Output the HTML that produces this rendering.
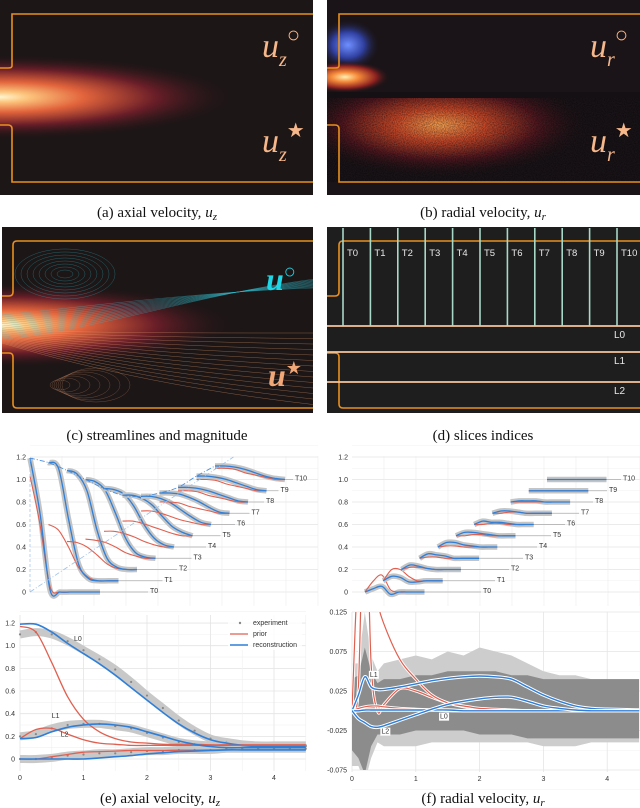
<!DOCTYPE html>
<html><head><meta charset="utf-8">
<style>
html,body{margin:0;padding:0;background:#fff;}
svg{display:block;font-family:"Liberation Sans",sans-serif;}
.cap{font-family:"Liberation Serif",serif;font-size:15px;fill:#111;}
.tk{font-size:7px;fill:#333;}
.grid{stroke:#e4e4e4;stroke-width:0.8;}
</style></head>
<body>
<svg id="fig" width="640" height="808" viewBox="0 0 640 808">
<defs>
 <radialGradient id="jetA" gradientUnits="userSpaceOnUse" cx="0" cy="97" r="240" gradientTransform="translate(0 97) scale(1 0.18) translate(0 -97)">
  <stop offset="0" stop-color="#fff6d0"/><stop offset="0.12" stop-color="#fcc47c"/>
  <stop offset="0.35" stop-color="#e2643c"/><stop offset="0.65" stop-color="#6a1e28"/>
  <stop offset="1" stop-color="#1c1416" stop-opacity="0"/>
 </radialGradient>
 <radialGradient id="jetC" gradientUnits="userSpaceOnUse" cx="0" cy="325" r="240" gradientTransform="translate(0 325) scale(1 0.18) translate(0 -325)">
  <stop offset="0" stop-color="#fff6d0"/><stop offset="0.12" stop-color="#fcc47c"/>
  <stop offset="0.35" stop-color="#e2643c"/><stop offset="0.65" stop-color="#6a1e28"/>
  <stop offset="1" stop-color="#1c1416" stop-opacity="0"/>
 </radialGradient>
 <radialGradient id="blueB" cx="0.5" cy="0.5" r="0.5">
  <stop offset="0" stop-color="#6f8fff"/><stop offset="0.5" stop-color="#3040a0"/><stop offset="1" stop-color="#1a1418" stop-opacity="0"/>
 </radialGradient>
 <radialGradient id="hotB" cx="0.5" cy="0.5" r="0.5">
  <stop offset="0" stop-color="#fff0b0"/><stop offset="0.3" stop-color="#f58a3a"/><stop offset="0.7" stop-color="#8a2020"/><stop offset="1" stop-color="#1a1418" stop-opacity="0"/>
 </radialGradient>
 <radialGradient id="lowB" gradientUnits="userSpaceOnUse" cx="440" cy="125" r="150" gradientTransform="translate(440 125) scale(1 0.35) translate(-440 -125)">
  <stop offset="0" stop-color="#f6a050"/><stop offset="0.3" stop-color="#c84a2a"/><stop offset="0.65" stop-color="#501820"/><stop offset="1" stop-color="#1a1418" stop-opacity="0"/>
 </radialGradient>
 <filter id="noise" x="0" y="0" width="100%" height="100%">
  <feTurbulence type="fractalNoise" baseFrequency="0.9" numOctaves="1" seed="3"/>
  <feColorMatrix type="matrix" values="0 0 0 0 0  0 0 0 0 0  0 0 0 0 0  0 0 0 -1.6 1.1"/>
 </filter>
 <clipPath id="clipA"><rect x="0" y="0" width="313" height="195"/></clipPath>
 <clipPath id="clipB"><rect x="327" y="0" width="313" height="195"/></clipPath>
 <clipPath id="clipC"><rect x="2" y="227" width="311" height="186"/></clipPath>
 <clipPath id="clipD"><rect x="327" y="227" width="313" height="186"/></clipPath>
</defs>

<!-- Panel a -->
<g clip-path="url(#clipA)">
 <rect x="0" y="0" width="313" height="195" fill="#1c1616"/>
 <rect x="0" y="20" width="313" height="155" fill="url(#jetA)"/>
 <path d="M313 14 H12 V66 Q12 68 8 68 H0 M0 125 H8 Q12 125 12 129 V182 H313" fill="none" stroke="#e8901e" stroke-width="1.6"/>
 <text x="262" y="57" font-family="Liberation Serif,serif" font-style="italic" font-size="34" fill="#f6b78a">u<tspan font-size="20" dy="9">z</tspan><tspan font-size="22" dy="-24" font-style="normal">○</tspan></text>
 <text x="262" y="152" font-family="Liberation Serif,serif" font-style="italic" font-size="34" fill="#f6b78a">u<tspan font-size="20" dy="9">z</tspan><tspan font-size="20" dy="-24" font-style="normal">★</tspan></text>
</g>
<text class="cap" x="157" y="217" text-anchor="middle">(a) axial velocity, <tspan font-style="italic">u<tspan font-size="11" dy="3">z</tspan></tspan></text>

<!-- Panel b -->
<g clip-path="url(#clipB)">
 <rect x="327" y="0" width="313" height="195" fill="#1a1418"/>
 <rect x="327" y="98" width="313" height="84" fill="url(#lowB)"/>
 <rect x="327" y="98" width="313" height="84" filter="url(#noise)" opacity="0.55"/>
 <ellipse cx="348" cy="45" rx="32" ry="26" fill="url(#blueB)"/>
 <ellipse cx="345" cy="77" rx="45" ry="16" fill="url(#hotB)"/>
 <rect x="327" y="92" width="313" height="6" fill="#141014"/>
 <path d="M640 14 H339 V66 Q339 68 335 68 H327 M327 125 H335 Q339 125 339 129 V182 H640" fill="none" stroke="#e8901e" stroke-width="1.6"/>
 <text x="590" y="57" font-family="Liberation Serif,serif" font-style="italic" font-size="34" fill="#f6b78a">u<tspan font-size="20" dy="9">r</tspan><tspan font-size="22" dy="-24" font-style="normal">○</tspan></text>
 <text x="590" y="152" font-family="Liberation Serif,serif" font-style="italic" font-size="34" fill="#f6b78a">u<tspan font-size="20" dy="9">r</tspan><tspan font-size="20" dy="-24" font-style="normal">★</tspan></text>
</g>
<text class="cap" x="483" y="217" text-anchor="middle">(b) radial velocity, <tspan font-style="italic">u<tspan font-size="11" dy="3">r</tspan></tspan></text>

<!-- Panel c -->
<g id="panelC" clip-path="url(#clipC)">
 <rect x="2" y="227" width="311" height="186" fill="#1c1616"/>
 <rect x="2" y="250" width="311" height="150" fill="url(#jetC)"/>
 <g id="streams"></g>
 <path d="M313 241 H17 Q13 241 13 245 V292 Q13 296 9 296 H2 M2 353 H9 Q13 353 13 357 V404 Q13 408 17 408 H313" fill="none" stroke="#e8901e" stroke-width="1.6"/>
 <text x="266" y="290" font-family="Liberation Serif,serif" font-style="italic" font-weight="bold" font-size="32" fill="#1fd6e6">u<tspan font-size="20" dy="-12" font-style="normal" font-weight="normal">○</tspan></text>
 <text x="268" y="386" font-family="Liberation Serif,serif" font-style="italic" font-weight="bold" font-size="32" fill="#f0a878">u<tspan font-size="18" dy="-12" font-style="normal" font-weight="normal">★</tspan></text>
</g>
<text class="cap" x="157" y="440" text-anchor="middle">(c) streamlines and magnitude</text>

<!-- Panel d -->
<g id="panelD" clip-path="url(#clipD)">
 <rect x="327" y="227" width="313" height="186" fill="#1e1e1e"/>
 <path d="M640 241 H343 Q339 241 339 245 V292 Q339 296 335 296 H327 M327 353 H335 Q339 353 339 357 V404 Q339 408 343 408 H640" fill="none" stroke="#e8901e" stroke-width="1.6"/>
</g>
<text class="cap" x="483" y="440" text-anchor="middle">(d) slices indices</text>

<g id="chartETop"></g>
<g id="chartFTop"></g>
<g id="chartE"></g>
<g id="chartF"></g>

<text class="cap" x="160" y="803" text-anchor="middle">(e) axial velocity, <tspan font-style="italic">u<tspan font-size="11" dy="3">z</tspan></tspan></text>
<text class="cap" x="483" y="803" text-anchor="middle">(f) radial velocity, <tspan font-style="italic">u<tspan font-size="11" dy="3">r</tspan></tspan></text>
</svg>

<script>
// ---------- data: axial slices (e-top) ----------
const sliceLabels = ["T0","T1","T2","T3","T4","T5","T6","T7","T8","T9","T10"];
const axialTicks = [0,0.2,0.4,0.6,0.8,1.0,1.2];
const axialRecon = [
 [1.19,0.7,0.02,0,0,0,0,0],
 [1.05,1.0,0.55,0.15,0.02,0,0,0],
 [0.88,0.85,0.7,0.35,0.1,0.02,0,0],
 [0.70,0.68,0.6,0.4,0.18,0.05,0.01,0],
 [0.52,0.51,0.47,0.36,0.2,0.08,0.02,0],
 [0.36,0.36,0.33,0.27,0.17,0.08,0.03,0],
 [0.25,0.25,0.23,0.19,0.13,0.07,0.02,0],
 [0.18,0.18,0.17,0.14,0.1,0.05,0.01,0],
 [0.13,0.13,0.12,0.1,0.07,0.04,0.01,0],
 [0.13,0.13,0.12,0.1,0.07,0.04,0.01,0],
 [0.12,0.12,0.11,0.09,0.06,0.03,0.01,0]
];
const axialPrior = [
 [1.03,0.6,0.05,0,0,0,0,0],
 [0.5,0.45,0.3,0.12,0.03,0,0,0],
 [0.25,0.24,0.2,0.13,0.05,0.01,0,0],
 [0.17,0.16,0.14,0.1,0.05,0.02,0,0],
 [0.14,0.14,0.12,0.09,0.05,0.02,0,0],
 [0.13,0.13,0.11,0.08,0.05,0.02,0,0],
 [0.12,0.12,0.1,0.07,0.04,0.02,0,0],
 [0.1,0.1,0.09,0.06,0.04,0.02,0,0],
 [0.1,0.1,0.09,0.06,0.04,0.02,0,0],
 [0.1,0.1,0.09,0.06,0.04,0.02,0,0],
 [0.1,0.1,0.09,0.06,0.04,0.02,0,0]
];
// ---------- data: radial slices (f-top) ----------
const radialRecon = [
 [0,0.03,0.05,-0.02,0,0,0,0],
 [0,0.04,0.03,-0.01,-0.01,0,0,0],
 [0,0.04,0.03,0.01,0,0,0,0],
 [0,0.04,0.03,0.02,0,0,0,0],
 [0,0.04,0.04,0.02,0.01,0,0,0],
 [0,0.03,0.03,0.02,0.01,0,0,0],
 [0,0.03,0.02,0.02,0.01,0,0,0],
 [0,0.02,0.02,0.01,0,0,0,0],
 [0,0.01,0.01,0.01,0,0,0,0],
 [0,0,0,0,0,0,0,0],
 [0,0,0,0,0,0,0,0]
];
const radialPrior = [
 [0,0.1,0.15,0.02,0,0,0,0],
 [0,0.1,0.1,0.04,0,0,0,0],
 [0,0.02,0.02,0.01,0,0,0,0],
 [0,0.01,0.01,0,0,0,0,0],
 [0,0.01,0.01,0,0,0,0,0],
 [0,0,0.01,0.01,0,0,0,0],
 [0,0,0.01,0.01,0,0,0,0],
 [0,0,0.01,0.01,0,0,0,0],
 [0,0,0,0,0,0,0,0],
 [0,0,0,0,0,0,0,0],
 [0,0,0,0,0,0,0,0]
];
// ---------- data: axial lines (e) ----------
const zAxis = [0,0.25,0.5,0.75,1,1.25,1.5,1.75,2,2.25,2.5,2.75,3,3.25,3.5,3.75,4,4.25,4.5];
const xTicks = [0,1,2,3,4];
const L0Recon = [1.19,1.19,1.12,1.02,0.93,0.84,0.74,0.63,0.52,0.41,0.31,0.23,0.17,0.14,0.12,0.11,0.11,0.11,0.11];
const L0Prior = [1.17,1.12,0.85,0.55,0.35,0.24,0.18,0.15,0.14,0.13,0.13,0.13,0.125,0.125,0.125,0.125,0.125,0.125,0.125];
const L0Exp = [1.1,1.12,1.1,1.04,0.96,0.88,0.79,0.68,0.56,0.45,0.34,0.25,0.18,0.15,0.13,0.12,0.12,0.12,0.12];
const L1Recon = [0.18,0.19,0.24,0.28,0.3,0.31,0.3,0.28,0.24,0.2,0.16,0.13,0.11,0.1,0.1,0.1,0.1,0.1,0.1];
const L1Prior = [0.18,0.26,0.27,0.22,0.17,0.14,0.13,0.12,0.12,0.12,0.12,0.12,0.12,0.12,0.12,0.12,0.12,0.12,0.12];
const L1Exp = [0.2,0.22,0.27,0.3,0.31,0.31,0.29,0.27,0.23,0.19,0.15,0.13,0.12,0.12,0.12,0.11,0.11,0.11,0.11];
const L2Recon = [0,0,0,0,0,0.01,0.02,0.03,0.045,0.055,0.065,0.07,0.075,0.08,0.08,0.08,0.08,0.08,0.08];
const L2Prior = [0,0,0.02,0.04,0.06,0.065,0.07,0.075,0.075,0.075,0.078,0.078,0.08,0.08,0.08,0.08,0.08,0.08,0.08];
const L2Exp = [0,0,0.01,0.03,0.04,0.05,0.05,0.06,0.07,0.07,0.08,0.08,0.08,0.09,0.09,0.09,0.09,0.09,0.09];
// ---------- data: radial lines (f) ----------
const rAxis = [0,0.1,0.2,0.3,0.4,0.5,0.75,1,1.25,1.5,1.75,2,2.25,2.5,2.75,3,3.25,3.5,3.75,4,4.5];
const rTicks = [-0.075,-0.025,0.025,0.075,0.125];
const rL1Recon = [0,0.02,0.043,0.03,0.027,0.027,0.03,0.034,0.038,0.041,0.043,0.044,0.043,0.04,0.03,0.02,0.012,0.006,0.003,0.002,0.001];
const rL2Recon = [0,-0.01,-0.015,-0.02,-0.021,-0.019,-0.012,-0.005,0.002,0.008,0.012,0.015,0.017,0.017,0.012,0.006,0.003,0.001,0,0,0];
const rL0Recon = [0,0,0.001,0.001,0.001,0.001,0.001,0.001,0.001,0.001,0,0,0,0,0,0,0,0,0,0,0];
const rL1Prior = [0,0.03,0.3,0.06,0,0.008,0.028,0.025,0.017,0.01,0.005,0.002,0.001,0,0,0,0,0,0,0,0];
const rL0Prior = [0,0.2,0.3,0.2,0.14,0.11,0.065,0.04,0.02,0.01,0.006,0.003,0.002,0.001,0,0,0,0,0,0,0];
const rL2Prior = [0,0.003,0.005,0.006,0.006,0.005,0.003,0.002,0.001,0,0,0,0,0,0,0,0,0,0,0,0];
const rBandLightHi = [0.06,0.06,0.125,0.07,0.05,0.06,0.065,0.07,0.065,0.075,0.07,0.08,0.075,0.07,0.06,0.05,0.045,0.045,0.04,0.04,0.04];
const rBandLightLo = [-0.07,-0.07,-0.09,-0.06,-0.04,-0.045,-0.045,-0.045,-0.04,-0.04,-0.04,-0.04,-0.04,-0.04,-0.04,-0.045,-0.045,-0.045,-0.04,-0.04,-0.04];
const rBandDarkHi = [0.04,0.045,0.08,0.05,0.035,0.04,0.04,0.045,0.045,0.05,0.05,0.05,0.05,0.045,0.045,0.04,0.04,0.04,0.04,0.04,0.04];
const rBandDarkLo = [-0.05,-0.06,-0.08,-0.045,-0.03,-0.03,-0.03,-0.025,-0.025,-0.025,-0.025,-0.03,-0.03,-0.03,-0.035,-0.035,-0.035,-0.035,-0.035,-0.035,-0.035];

const NS = "http://www.w3.org/2000/svg";
function mk(tag, attrs, parent){const e=document.createElementNS(NS,tag);for(const k in attrs)e.setAttribute(k,attrs[k]);parent.appendChild(e);return e;}
function smooth(pts){
 let d="M"+pts[0][0].toFixed(1)+" "+pts[0][1].toFixed(1);
 for(let i=0;i<pts.length-1;i++){
  const p0=pts[Math.max(0,i-1)],p1=pts[i],p2=pts[i+1],p3=pts[Math.min(pts.length-1,i+2)];
  const c1=[p1[0]+(p2[0]-p0[0])/6,p1[1]+(p2[1]-p0[1])/6],c2=[p2[0]-(p3[0]-p1[0])/6,p2[1]-(p3[1]-p1[1])/6];
  d+=" C"+c1[0].toFixed(1)+" "+c1[1].toFixed(1)+" "+c2[0].toFixed(1)+" "+c2[1].toFixed(1)+" "+p2[0].toFixed(1)+" "+p2[1].toFixed(1);
 }
 return d;
}

// ---------- slices charts ----------
function slicesChart(gid, axisX, x0, step, rStep, recon, prior, labX0, labStep){
 const g=document.getElementById(gid);
 const yS=v=>592-v*112.5;
 const xEnd=axisX+288;
 axialTicks.forEach((t,i)=>{
  const gl=mk("line",{x1:axisX,x2:xEnd,y1:yS(t),y2:yS(t),class:"grid"},g);
  
  
  mk("line",{x1:axisX,x2:xEnd,y1:yS(t+0.1),y2:yS(t+0.1),stroke:"#f0f0f0","stroke-width":0.6},g);
  const tx=mk("text",{x:axisX-4,y:yS(t)+2.5,class:"tk","text-anchor":"end"},g);
  tx.textContent=t===0?"0":t.toFixed(1);
  
  
 });
 for(let k=1;k<10;k++){mk("line",{x1:axisX+k*32,x2:axisX+k*32,y1:456,y2:606,stroke:"#ececec","stroke-width":0.6},g);}
 recon.forEach((prof,k)=>{
  const base=k*0.1;
  const sx=x0+k*step;
  const rp=prof.map((v,i)=>[sx+i*rStep,yS(base+v)]);
  const pp=prior[k].map((v,i)=>[sx+i*rStep,yS(base+v)]);
  const lx=labX0+k*labStep;
  const bl=mk("line",{x1:sx+7*rStep,x2:lx-2,y1:yS(base),y2:yS(base),stroke:"#aaa","stroke-width":0.7},g);
  
  
  const band=mk("path",{d:smooth(rp),fill:"none",stroke:"#c4c4c4","stroke-width":5.5,"stroke-linejoin":"round"},g);
  
  
  const pr=mk("path",{d:smooth(pp),fill:"none",stroke:"#e06050","stroke-width":1.1},g);
  
  
  const rc=mk("path",{d:smooth(rp),fill:"none",stroke:"#2f7fd8","stroke-width":1.3},g);
  
  
  const lb=mk("text",{x:lx,y:yS(base)+1,class:"tk","font-size":"8"},g);
  lb.textContent=sliceLabels[k];
  
  
 });
 return {g,yS};
}
const et=slicesChart("chartETop",30,30,18.5,10,axialRecon,axialPrior,150,14.5);
{
 const pts=axialRecon.map((p,k)=>[30+k*18.5,et.yS(p[0]+k*0.1)]);
 const dl=mk("path",{d:smooth(pts),fill:"none",stroke:"#4a90e0","stroke-width":0.9,"stroke-dasharray":"5 2 1 2"},et.g);
 
 
 const dg=mk("line",{x1:30,y1:et.yS(0),x2:30+11*18.5,y2:et.yS(1.2),stroke:"#9cc0ea","stroke-width":0.8,"stroke-dasharray":"5 2 1 2"},et.g);
 
 
 mk("line",{x1:30,y1:et.yS(0),x2:30,y2:et.yS(1.19),stroke:"#9cc0ea","stroke-width":0.7,"stroke-dasharray":"3 2"},et.g);
}
slicesChart("chartFTop",352,365,18.2,8.5,radialRecon,radialPrior,483,14);

// ---------- line chart e ----------
{
 const g=document.getElementById("chartE");
 const xS=v=>20+v*63.5, yS=v=>759-v*113.3;
 [0,0.2,0.4,0.6,0.8,1.0,1.2].forEach(t=>{
  mk("line",{x1:20,x2:306,y1:yS(t),y2:yS(t),class:"grid"},g);
  mk("line",{x1:20,x2:306,y1:yS(t+0.1),y2:yS(t+0.1),stroke:"#f0f0f0","stroke-width":0.6},g);
  const tx=mk("text",{x:15,y:yS(t)+2.5,class:"tk","text-anchor":"end"},g);
  tx.textContent=t===0?"0":t.toFixed(1);
  
  
 });
 xTicks.forEach(t=>{
  mk("line",{x1:xS(t),x2:xS(t),y1:615,y2:771,class:"grid"},g);
  mk("line",{x1:xS(t+0.5),x2:xS(t+0.5),y1:615,y2:771,stroke:"#f0f0f0","stroke-width":0.6},g);
  const tx=mk("text",{x:xS(t),y:780,class:"tk","text-anchor":"middle"},g);
  tx.textContent=t;
  
  
 });
 const series=[["L0",L0Exp,L0Prior,L0Recon],["L1",L1Exp,L1Prior,L1Recon],["L2",L2Exp,L2Prior,L2Recon]];
 series.forEach(([n,ex,pr,rc])=>{
  const ep=ex.map((v,i)=>[xS(zAxis[i]),yS(v)]);
  const b=mk("path",{d:smooth(ep),fill:"none",stroke:"#c8c8c8","stroke-width":8,"stroke-linejoin":"round"},g);
  
  
  ep.forEach(p=>{
   const c=mk("circle",{cx:p[0],cy:p[1],r:1.1,fill:"#888"},g);
   
   
  });
 });
 series.forEach(([n,ex,pr,rc])=>{
  const p=mk("path",{d:smooth(pr.map((v,i)=>[xS(zAxis[i]),yS(v)])),fill:"none",stroke:"#e06050","stroke-width":1.3},g);
  
  
  const r=mk("path",{d:smooth(rc.map((v,i)=>[xS(zAxis[i]),yS(v)])),fill:"none",stroke:"#2f7fd8","stroke-width":1.6},g);
  
  
 });
 [["L0",0.85,1.04],["L1",0.5,0.36],["L2",0.64,0.2]].forEach(([n,x,y])=>{
  const t=mk("text",{x:xS(x),y:yS(y),class:"tk","font-size":"8"},g);
  t.textContent=n;
  
  
 });
 const lg=mk("g",{},g);
 
 
 mk("rect",{x:228,y:614,width:74,height:36,fill:"#fff","fill-opacity":0.8},lg);
 mk("circle",{cx:240,cy:623,r:1.2,fill:"#888"},lg);
 mk("line",{x1:230,x2:248,y1:634,y2:634,stroke:"#e06050","stroke-width":1.3},lg);
 mk("line",{x1:230,x2:248,y1:645,y2:645,stroke:"#2f7fd8","stroke-width":1.6},lg);
 [["experiment",625],["prior",636],["reconstruction",647]].forEach(([s,y])=>{
  const t=mk("text",{x:253,y:y,class:"tk","font-size":"6.5"},lg);
  t.textContent=s;
  
  
 });
}

// ---------- line chart f ----------
{
 const g=document.getElementById("chartF");
 const xS=v=>352+v*63.8, yS=v=>770-(v+0.075)*790;
 const clipR=mk("clipPath",{id:"clipF"},g); mk("rect",{x:352,y:612,width:288,height:158},clipR);
 rTicks.forEach(t=>{
  mk("line",{x1:352,x2:640,y1:yS(t),y2:yS(t),class:"grid"},g);
  mk("line",{x1:352,x2:640,y1:yS(t-0.025),y2:yS(t-0.025),stroke:"#f0f0f0","stroke-width":0.6},g);
  const tx=mk("text",{x:347,y:yS(t)+2.5,class:"tk","text-anchor":"end"},g);
  tx.textContent=t.toFixed(3);
  
  
 });
 xTicks.forEach(t=>{
  mk("line",{x1:xS(t),x2:xS(t),y1:612,y2:772,class:"grid"},g);
  const tx=mk("text",{x:xS(t),y:781,class:"tk","text-anchor":"middle"},g);
  tx.textContent=t;
  
  
 });
 const cg=mk("g",{"clip-path":"url(#clipF)"},g);
 function band(hi,lo,fill,name){
  let d="M";
  rAxis.forEach((x,i)=>{d+=xS(x).toFixed(1)+" "+yS(hi[i]).toFixed(1)+" L";});
  for(let i=rAxis.length-1;i>=0;i--){d+=xS(rAxis[i]).toFixed(1)+" "+yS(lo[i]).toFixed(1)+(i?" L":" Z");}
  const p=mk("path",{d:d,fill:fill,stroke:"none"},cg);
  
  
 }
 band(rBandLightHi,rBandLightLo,"#cdcdcd","experiment-band-light");
 band(rBandDarkHi,rBandDarkLo,"#8c8c8c","experiment-band-dark");
 [["L1",rL1Prior],["L0",rL0Prior],["L2",rL2Prior]].forEach(([n,s])=>{
  const pts=s.map((v,i)=>[xS(rAxis[i]),yS(v)]);
  mk("path",{d:smooth(pts),fill:"none",stroke:"#fff","stroke-width":3},cg);
  const p=mk("path",{d:smooth(pts),fill:"none",stroke:"#e06050","stroke-width":1.2},cg);
  
  
 });
 [["L1",rL1Recon],["L0",rL0Recon],["L2",rL2Recon]].forEach(([n,s])=>{
  const pts=s.map((v,i)=>[xS(rAxis[i]),yS(v)]);
  mk("path",{d:smooth(pts),fill:"none",stroke:"#fff","stroke-width":3.4},cg);
  const p=mk("path",{d:smooth(pts),fill:"none",stroke:"#2f7fd8","stroke-width":1.4},cg);
  
  
 });
 [["L1",0.28,0.043],["L0",1.38,-0.01],["L2",0.46,-0.029]].forEach(([n,x,y])=>{
  mk("rect",{x:xS(x)-1,y:yS(y)-6,width:10,height:8,fill:"#fff"},g);
  const t=mk("text",{x:xS(x),y:yS(y),class:"tk","font-size":"7"},g);
  t.textContent=n;
  
  
 });
}

// ---------- panel d slices ----------
{
 const g=document.getElementById("panelD");
 sliceLabels.forEach((s,k)=>{
  const x=343+k*27.4;
  const l=mk("line",{x1:x,x2:x,y1:228,y2:326,stroke:"#a8d8c8","stroke-width":1.6},g);
  
  
  const t=mk("text",{x:x+4,y:256,"font-size":"9.5",fill:"#e8e8e8"},g);
  t.textContent=s;
  
  
 });
 [["L0",326],["L1",352],["L2",382]].forEach(([s,y])=>{
  const l=mk("line",{x1:327,x2:640,y1:y,y2:y,stroke:"#f5c49a","stroke-width":1.8},g);
  
  
  const t=mk("text",{x:614,y:y+12,"font-size":"10",fill:"#e8e8e8"},g);
  t.textContent=s;
  
  
 });
}

// ---------- panel c streamlines (decorative) ----------
{
 const g=document.getElementById("streams");
 for(let i=0;i<12;i++){
  const y=300+i*2.2;
  mk("path",{d:`M2 ${y+15} C100 ${y+5} 200 ${y-8-i*2} 313 ${y-12-i*3}`,fill:"none",stroke:"#2fb8c8","stroke-width":0.5,opacity:0.5},g);
 }
 for(let i=0;i<8;i++){
  mk("ellipse",{cx:65,cy:274,rx:8+i*6,ry:4+i*3,fill:"none",stroke:"#2fb8c8","stroke-width":0.5,opacity:0.45},g);
 }
 for(let i=0;i<14;i++){
  const y=333+i*3;
  mk("path",{d:`M2 ${330+i} C100 ${y} 200 ${y+i*1.5} 313 ${y+i*2.5}`,fill:"none",stroke:"#e8a070","stroke-width":0.5,opacity:0.5},g);
 }
 for(let i=0;i<7;i++){
  mk("ellipse",{cx:60+i*6,cy:385,rx:10+i*4,ry:5+i*2,fill:"none",stroke:"#d89068","stroke-width":0.5,opacity:0.4},g);
 }
}
</script>
</body></html>
